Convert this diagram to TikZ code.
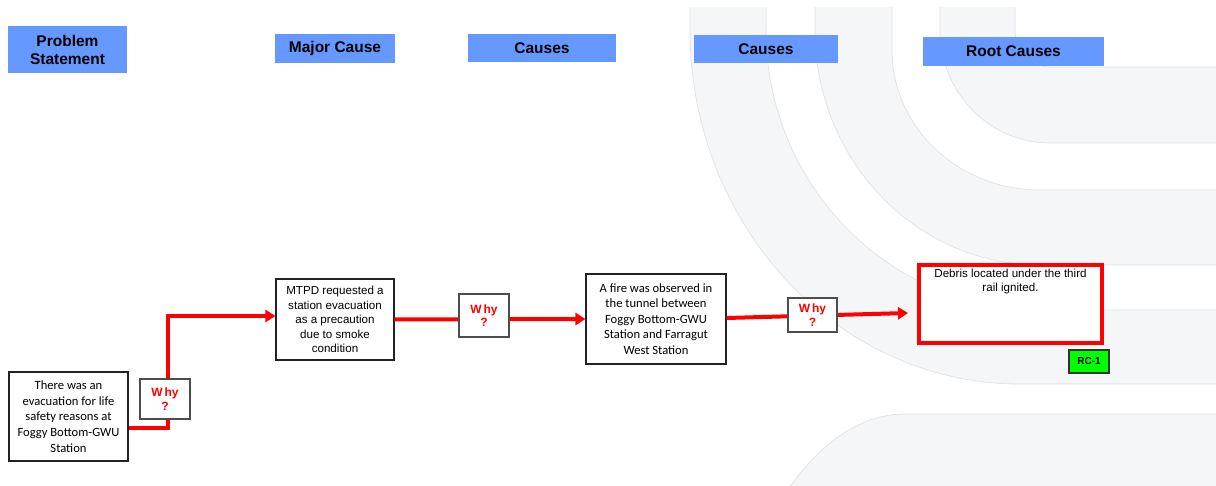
\documentclass[tikz,border=0pt]{standalone}
\usepackage{fontspec}
\setmainfont{Liberation Sans}
\newfontfamily\calibri{Carlito}
\usetikzlibrary{arrows.meta}

\definecolor{headblue}{HTML}{6699FF}
\definecolor{bandfill}{HTML}{F5F6F8}
\definecolor{bandline}{HTML}{E0E1E5}
\definecolor{whyred}{HTML}{FF0000}
\definecolor{rcgreen}{HTML}{00FF00}
\definecolor{boxline}{HTML}{222222}

\begin{document}
\begin{tikzpicture}[x=1pt,y=-1pt,
  header/.style={fill=headblue, inner sep=0pt, align=center,
    font=\fontsize{15.5}{18}\selectfont\bfseries},
  causebox/.style={draw=boxline, line width=1.1pt, fill=white, inner sep=0pt, align=center},
  calibritext/.style={font=\calibri\fontsize{12.6}{15.6}\selectfont},
  arialtext/.style={font=\fontsize{11.6}{14.5}\selectfont},
  whybox/.style={draw=black!70, line width=1.3pt, fill=white, inner sep=0pt,
    minimum width=50pt, text=whyred, align=center,
    font=\fontsize{12}{13.5}\selectfont\bfseries},
  conn/.style={draw=whyred, line width=4pt},
  tip/.style={-{Triangle[length=10pt,width=12pt]}},
  band/.style={fill=bandfill},
  bandedge/.style={draw=bandline, line width=0.7pt},
]
\useasboundingbox (0,0) rectangle (1216,486);
\clip (0,0) rectangle (1216,486);

% ---- pale background bands ----
\fill[band] (690,7) -- (690,30) .. controls (690,225.4) and (837.8,384) .. (1020,384)
  -- (1216,384) -- (1216,310) -- (1040,310) .. controls (888.8,310) and (766,184.6) .. (766,30)
  -- (766,7) -- cycle;
\draw[bandedge] (690,7) -- (690,30) .. controls (690,225.4) and (837.8,384) .. (1020,384) -- (1216,384);
\draw[bandedge] (1216,310) -- (1040,310) .. controls (888.8,310) and (766,184.6) .. (766,30) -- (766,7);

\fill[band] (815,7) -- (815,30) .. controls (815,159.7) and (915.8,265) .. (1040,265)
  -- (1216,265) -- (1216,190) -- (1040,190) .. controls (958.3,190) and (892,127.3) .. (892,50)
  -- (892,7) -- cycle;
\draw[bandedge] (815,7) -- (815,30) .. controls (815,159.7) and (915.8,265) .. (1040,265) -- (1216,265);
\draw[bandedge] (1216,190) -- (1040,190) .. controls (958.3,190) and (892,127.3) .. (892,50) -- (892,7);

\fill[band] (940,7) -- (940,30) .. controls (940,92.4) and (989.3,143) .. (1050,143)
  -- (1216,143) -- (1216,67) -- (1050,67) .. controls (1030.7,67) and (1015,50.4) .. (1015,30)
  -- (1015,7) -- cycle;
\draw[bandedge] (940,7) -- (940,30) .. controls (940,92.4) and (989.3,143) .. (1050,143) -- (1216,143);
\draw[bandedge] (1216,67) -- (1050,67) .. controls (1030.7,67) and (1015,50.4) .. (1015,30) -- (1015,7);

\fill[band] (705,814) .. controls (705,593.2) and (794.6,414) .. (905,414)
  -- (1216,414) -- (1216,814) -- cycle;
\draw[bandedge] (705,814) .. controls (705,593.2) and (794.6,414) .. (905,414) -- (1216,414);

% ---- column headings ----
\node[header, minimum width=119pt, minimum height=47pt] (hps) at (67.5,49.5) {Problem\\Statement};
\node[header, minimum width=120pt, minimum height=29pt] (hmajor) at (335,48.5) {Major Cause};
\node[header, minimum width=148pt, minimum height=28pt] (hcause1) at (542,48) {Causes};
\node[header, minimum width=144pt, minimum height=28pt] (hcause2) at (766,49) {Causes};
\node[header, minimum width=181pt, minimum height=29pt] (hroot) at (1013.5,51.5) {Root Causes};

% ---- cause chain ----
\node[causebox, calibritext, minimum width=119pt, minimum height=89pt] (ps) at (68.5,416.5)
  {There was an\\evacuation for life\\safety reasons at\\Foggy Bottom-GWU\\Station};
\node[causebox, arialtext, minimum width=118pt, minimum height=81pt] (mtpd) at (335,319.5)
  {MTPD requested a\\station evacuation\\as a precaution\\due to smoke\\condition};
\node[causebox, calibritext, minimum width=140pt, minimum height=90pt] (fire) at (656,319)
  {A fire was observed in\\the tunnel between\\Foggy Bottom-GWU\\Station and Farragut\\West Station};
\node[draw=whyred, line width=4pt, fill=white, inner sep=0pt, arialtext,
  minimum width=183pt, minimum height=78pt] (debris) at (1010.5,304)
  {\parbox[c][70pt][t]{180pt}{\centering Debris located under the third\\rail ignited.}};
\node[draw=black!80, line width=1.2pt, fill=rcgreen, inner sep=0pt,
  minimum width=40pt, minimum height=23pt, font=\fontsize{10}{12}\selectfont\bfseries]
  (rc1) at (1089,361.5) {RC-1};

% ---- connectors ----
\coordinate (b1) at (168,428);
\coordinate (b2) at (168,316);
\draw[conn, tip] (ps.east |- b1) -- (b1) -- (b2) -- (mtpd.west |- b2);
\draw[conn, tip] (mtpd.east) -- (fire.west);
\draw[conn, tip] ([yshift=1pt]fire.east) -- ([xshift=-9pt,yshift=-9pt]debris.west);

% ---- why markers ----
\node[whybox, minimum height=40pt] (why1) at (165,399) {W\hspace{2pt}hy\\?};
\node[whybox, minimum height=43pt] (why2) at (484,315.5) {W\hspace{2pt}hy\\?};
\node[whybox, minimum width=49pt, minimum height=34pt] (why3) at (812.5,315) {W\hspace{2pt}hy\\?};
\end{tikzpicture}
\end{document}
